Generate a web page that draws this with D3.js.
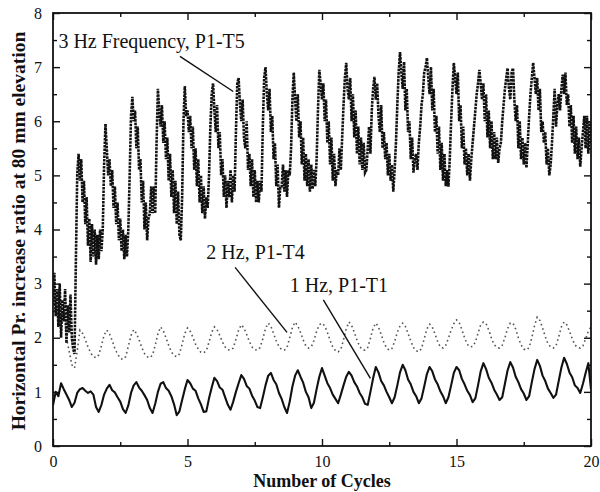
<!DOCTYPE html>
<html>
<head>
<meta charset="utf-8">
<script src="https://cdn.jsdelivr.net/npm/d3@7"></script>
<style>
  html, body { margin: 0; padding: 0; background: #fff; }
  svg { display: block; }
  text { font-family: "Liberation Serif", "Times New Roman", serif; fill: #111; }
</style>
</head>
<body>
<svg id="chart" width="600" height="492"></svg>
<script>
// Horizontal pressure increase ratio at 80 mm elevation vs. number of cycles

// 3 Hz test (P1-T5), sampled every 0.05 cycle, one row per cycle
const step3Hz = 0.05;
const ratio3Hz = [
  2.6, 3.2, 2.4, 2.9, 2.2, 3.0, 2.0, 2.7, 2.3, 2.9, 1.9, 2.6, 2.1, 2.8, 2.0, 1.8, 1.7, 3.4, 5.0, 5.4,
  4.9, 5.3, 4.5, 4.9, 4.1, 4.6, 3.7, 4.2, 3.4, 4.1, 3.5, 4.0, 3.35, 3.9, 3.45, 4.0, 3.6, 4.0, 5.2, 5.95,
  5.5, 5.0, 5.3, 4.8, 5.1, 4.4, 4.8, 4.1, 4.5, 3.8, 4.2, 3.6, 4.0, 3.45, 3.9, 3.5, 4.0, 5.0, 6.1, 6.45,
  6.0, 6.2, 5.5, 5.9, 5.1, 5.3, 4.5, 4.9, 4.0, 4.5, 3.8, 4.2, 4.3, 4.8, 4.3, 4.8, 4.3, 5.6, 6.6, 6.2,
  5.9, 6.3, 5.6, 6.0, 5.3, 5.7, 4.9, 5.4, 4.6, 5.1, 4.3, 4.9, 4.1, 4.7, 3.9, 3.8, 4.6, 6.0, 6.65, 6.1,
  6.2, 5.8, 6.1, 5.5, 5.9, 5.1, 5.5, 4.8, 5.3, 4.5, 5.0, 4.3, 4.8, 4.2, 4.6, 4.4, 5.0, 5.9, 6.5, 6.7,
  6.2, 5.8, 6.3, 5.5, 5.8, 5.0, 5.3, 4.6, 5.0, 4.4, 4.9, 4.6, 5.1, 4.5, 5.0, 4.7, 5.8, 6.7, 6.8, 6.3,
  6.0, 6.4, 5.7, 5.5, 6.0, 5.1, 5.4, 4.8, 5.3, 4.6, 5.1, 4.5, 4.9, 4.5, 4.9, 4.7, 5.9, 6.8, 7.0, 6.5,
  6.2, 6.6, 5.8, 6.1, 5.3, 5.6, 4.8, 5.2, 4.4, 4.8, 4.8, 5.2, 4.7, 5.1, 4.6, 5.1, 5.0, 5.5, 6.4, 6.9,
  6.4, 6.0, 6.5, 5.7, 6.0, 5.2, 5.7, 4.9, 5.4, 4.8, 5.3, 4.7, 5.2, 4.75, 5.1, 4.8, 5.3, 6.2, 6.95, 6.7,
  6.4, 6.7, 6.0, 6.4, 5.6, 6.0, 5.2, 5.7, 4.9, 5.4, 4.8, 5.1, 5.0, 5.5, 5.1, 5.7, 6.3, 6.8, 7.08, 6.6,
  6.4, 6.8, 6.0, 6.5, 5.7, 6.2, 5.4, 5.9, 5.2, 5.7, 5.1, 5.6, 5.05, 5.1, 5.5, 5.9, 5.4, 6.2, 6.6, 6.82,
  6.4, 6.7, 6.1, 5.8, 6.3, 5.5, 5.8, 5.3, 5.6, 5.0, 5.4, 4.9, 5.2, 4.7, 5.1, 5.6, 6.3, 6.9, 7.28, 6.9,
  6.6, 7.1, 6.2, 6.6, 5.8, 6.0, 5.3, 5.7, 5.05, 5.3, 5.4, 5.1, 5.6, 5.9, 6.3, 6.5, 6.9, 7.0, 7.17, 6.8,
  6.5, 7.0, 6.2, 6.6, 5.8, 6.1, 5.4, 5.9, 5.1, 5.6, 4.9, 5.4, 4.8, 5.1, 4.79, 5.3, 6.0, 6.6, 7.08, 6.8,
  6.5, 6.9, 6.0, 6.3, 5.5, 5.9, 5.2, 5.5, 5.0, 5.4, 4.9, 5.3, 5.6, 5.9, 6.2, 6.5, 6.7, 6.95, 6.7, 6.4,
  6.7, 6.0, 6.5, 5.7, 6.2, 5.5, 6.0, 5.3, 5.8, 5.3, 5.7, 5.23, 5.5, 5.6, 6.0, 6.3, 6.6, 6.8, 6.98, 6.6,
  6.4, 6.9, 6.98, 6.4, 6.0, 6.3, 5.5, 6.0, 5.3, 5.7, 5.2, 5.6, 5.14, 5.6, 6.1, 6.5, 6.8, 7.08, 6.8, 6.5,
  6.8, 6.2, 6.6, 5.8, 6.0, 5.6, 5.8, 5.2, 5.5, 5.0, 5.2, 5.6, 6.1, 6.6, 5.9, 6.3, 6.5, 6.2, 6.6, 6.86,
  6.5, 6.9, 6.3, 6.5, 5.9, 6.3, 5.6, 6.1, 5.4, 5.9, 5.3, 5.7, 5.16, 5.5, 5.8, 6.1, 5.5, 6.1, 5.4, 6.0,
  5.6
];

// 2 Hz test (P1-T4), sampled every 0.1 cycle
const step2Hz = 0.1;
const ratio2Hz = [
  2.8, 2.5, 2.9, 2.3, 2.6, 2.0, 1.75, 1.5, 1.44, 1.75,
  2.14, 2.08, 1.97, 1.83, 1.72, 1.65, 1.63, 1.68, 1.85, 2.05,
  2.14, 2.07, 1.95, 1.8, 1.7, 1.62, 1.6, 1.65, 1.84, 2.04,
  2.15, 2.08, 1.96, 1.82, 1.71, 1.65, 1.63, 1.68, 1.86, 2.07,
  2.2, 2.13, 2.0, 1.86, 1.74, 1.67, 1.65, 1.7, 1.88, 2.08,
  2.18, 2.12, 2.01, 1.88, 1.79, 1.73, 1.72, 1.76, 1.92, 2.1,
  2.2, 2.15, 2.04, 1.92, 1.83, 1.78, 1.77, 1.81, 1.97, 2.14,
  2.24, 2.18, 2.06, 1.93, 1.83, 1.78, 1.77, 1.82, 1.98, 2.17,
  2.27, 2.21, 2.08, 1.94, 1.84, 1.78, 1.77, 1.82, 2.0, 2.19,
  2.29, 2.22, 2.1, 1.96, 1.85, 1.81, 1.83, 1.95, 2.12, 2.24,
  2.27, 2.22, 2.1, 1.95, 1.83, 1.76, 1.74, 1.79, 1.96, 2.16,
  2.29, 2.23, 2.1, 1.96, 1.84, 1.78, 1.77, 1.82, 1.99, 2.18,
  2.27, 2.2, 2.06, 1.92, 1.81, 1.77, 1.8, 1.93, 2.1, 2.22,
  2.27, 2.21, 2.08, 1.94, 1.82, 1.76, 1.74, 1.8, 1.98, 2.16,
  2.25, 2.2, 2.07, 1.93, 1.83, 1.81, 1.86, 1.99, 2.14, 2.26,
  2.33, 2.28, 2.15, 2.0, 1.88, 1.83, 1.84, 1.92, 2.08, 2.24,
  2.29, 2.26, 2.14, 1.99, 1.87, 1.82, 1.81, 1.86, 2.0, 2.17,
  2.27, 2.27, 2.16, 2.0, 1.87, 1.79, 1.77, 1.82, 2.0, 2.22,
  2.38, 2.32, 2.18, 2.02, 1.89, 1.83, 1.81, 1.85, 2.02, 2.2,
  2.29, 2.24, 2.12, 1.98, 1.87, 1.82, 1.81, 1.85, 1.98, 2.12,
  2.2
];

// 1 Hz test (P1-T1), sampled every 0.1 cycle
const step1Hz = 0.1;
const ratio1Hz = [
  0.75, 1.0, 0.92, 1.16, 1.05, 0.95, 0.85, 0.72, 0.8, 0.98,
  1.05, 1.07, 1.02, 0.98, 1.01, 0.95, 0.72, 0.63, 0.76, 0.95,
  1.06, 1.13, 1.03, 0.99, 0.9, 0.82, 0.68, 0.61, 0.75, 0.98,
  1.12, 1.18, 1.08, 1.02, 0.94, 0.85, 0.7, 0.61, 0.78, 1.0,
  1.15, 1.18, 1.07, 1.02, 0.92, 0.77, 0.57, 0.64, 0.85, 1.05,
  1.22, 1.16, 1.06, 1.02, 0.88, 0.77, 0.63, 0.64, 0.88, 1.08,
  1.26, 1.2, 1.08, 1.04, 0.9, 0.76, 0.67, 0.82, 1.0, 1.16,
  1.31, 1.24, 1.11, 1.06, 0.93, 0.84, 0.72, 0.7, 0.9, 1.12,
  1.3, 1.35, 1.22, 1.14, 0.98, 0.87, 0.72, 0.61, 0.82, 1.1,
  1.3, 1.4, 1.28, 1.17, 1.0, 0.9, 0.7, 0.8, 1.05, 1.28,
  1.44, 1.3, 1.16, 1.07, 0.95, 0.87, 0.79, 0.95, 1.12, 1.28,
  1.37, 1.3, 1.18, 1.1, 0.98, 0.9, 0.78, 0.76, 1.0, 1.25,
  1.46, 1.36, 1.2, 1.12, 1.0, 0.9, 0.79, 0.9, 1.12, 1.36,
  1.5, 1.4, 1.23, 1.14, 1.0, 0.92, 0.79, 0.88, 1.1, 1.33,
  1.46, 1.38, 1.23, 1.14, 1.01, 0.92, 0.79, 0.9, 1.12, 1.35,
  1.46, 1.4, 1.24, 1.14, 1.02, 0.94, 0.81, 0.88, 1.12, 1.38,
  1.53, 1.42, 1.26, 1.17, 1.04, 0.95, 0.85, 0.9, 1.15, 1.4,
  1.55, 1.45, 1.28, 1.18, 1.05, 0.97, 0.85, 0.92, 1.18, 1.42,
  1.59, 1.48, 1.3, 1.2, 1.06, 0.98, 0.89, 0.95, 1.2, 1.45,
  1.63, 1.52, 1.36, 1.27, 1.12, 1.07, 0.98, 1.15, 1.35, 1.53,
  1.05
];

const xTicks = [0, 5, 10, 15, 20];
const yTicks = [0, 1, 2, 3, 4, 5, 6, 7, 8];
const xTitle = "Number of Cycles";
const yTitle = "Horizontal Pr. increase ratio at 80 mm elevation";

// Callout labels: text, anchor in data units, and where the leader points
const callouts = [
  { text: "3 Hz Frequency, P1-T5", tx: 0.2, ty: 7.35, x1: 4.72, y1: 7.2, x2: 6.7, y2: 6.55 },
  { text: "2 Hz, P1-T4",           tx: 5.7, ty: 3.45, x1: 6.77, y1: 3.3, x2: 8.7, y2: 2.1 },
  { text: "1 Hz, P1-T1",           tx: 8.8, ty: 2.85, x1: 10.05, y1: 2.7, x2: 11.8, y2: 1.25 }
];

const svg = d3.select("#chart");
const margin = { left: 53, right: 9, top: 13, bottom: 46 };
const W = 600, H = 492;
const x = d3.scaleLinear().domain([0, 20]).range([margin.left, W - margin.right]);
const y = d3.scaleLinear().domain([0, 8]).range([H - margin.bottom, margin.top]);

const toPoints = (vals, step) => vals.map((v, i) => [i * step, v]);
const line = d3.line().x(d => x(d[0])).y(d => y(d[1]));

const plot = svg.append("g");
plot.append("defs").append("clipPath").attr("id", "clip")
  .append("rect").attr("x", x(0)).attr("y", y(8)).attr("width", x(20) - x(0)).attr("height", y(0) - y(8));

const series = plot.append("g").attr("clip-path", "url(#clip)");

series.append("path")
  .attr("d", line(toPoints(ratio2Hz, step2Hz)))
  .attr("fill", "none").attr("stroke", "#555").attr("stroke-width", 1.6)
  .attr("stroke-dasharray", "1.6,3.0");

series.append("path")
  .attr("d", line(toPoints(ratio1Hz, step1Hz)))
  .attr("fill", "none").attr("stroke", "#111").attr("stroke-width", 2.1)
  .attr("stroke-linejoin", "round");

series.append("path")
  .attr("d", line(toPoints(ratio3Hz, step3Hz)))
  .attr("fill", "none").attr("stroke", "#111").attr("stroke-width", 2.6)
  .attr("stroke-dasharray", "2.6,0.9");

// Axes: ticks pointing inward on all four sides
const tickFont = "16px";
const axisB = d3.axisBottom(x).tickValues(xTicks).tickSize(-7).tickPadding(10).tickFormat(d3.format("d"));
const axisT = d3.axisTop(x).tickValues(xTicks).tickSize(-7).tickFormat("");
const axisL = d3.axisLeft(y).tickValues(yTicks).tickSize(-7).tickPadding(11).tickFormat(d3.format("d"));
const axisR = d3.axisRight(y).tickValues(yTicks).tickSize(-7).tickFormat("");

const minorX = d3.range(0, 20.01, 2.5).filter(v => v % 5 !== 0);
const minorY = d3.range(0.5, 8, 1);

function styleAxis(g) {
  g.select(".domain").remove();
  g.selectAll("line").attr("stroke", "#111").attr("stroke-width", 1.4);
  g.selectAll("text").style("font-size", tickFont).attr("fill", "#222")
    .style("font-family", "'Liberation Serif', serif");
}

svg.append("g").attr("transform", `translate(0,${y(0)})`).call(axisB).call(styleAxis);
svg.append("g").attr("transform", `translate(0,${y(8)})`).call(axisT).call(styleAxis);
svg.append("g").attr("transform", `translate(${x(0)},0)`).call(axisL).call(styleAxis);
svg.append("g").attr("transform", `translate(${x(20)},0)`).call(axisR).call(styleAxis);

svg.append("g").attr("transform", `translate(0,${y(0)})`)
  .call(d3.axisBottom(x).tickValues(minorX).tickSize(-4).tickFormat("")).call(styleAxis);
svg.append("g").attr("transform", `translate(0,${y(8)})`)
  .call(d3.axisTop(x).tickValues(minorX).tickSize(-4).tickFormat("")).call(styleAxis);
svg.append("g").attr("transform", `translate(${x(0)},0)`)
  .call(d3.axisLeft(y).tickValues(minorY).tickSize(-4).tickFormat("")).call(styleAxis);
svg.append("g").attr("transform", `translate(${x(20)},0)`)
  .call(d3.axisRight(y).tickValues(minorY).tickSize(-4).tickFormat("")).call(styleAxis);

// Frame
svg.append("rect")
  .attr("x", x(0)).attr("y", y(8))
  .attr("width", x(20) - x(0)).attr("height", y(0) - y(8))
  .attr("fill", "none").attr("stroke", "#111").attr("stroke-width", 1.8);

// Axis titles
svg.append("text")
  .attr("x", (x(0) + x(20)) / 2).attr("y", 487)
  .attr("text-anchor", "middle")
  .style("font-size", "18px").style("font-weight", "bold")
  .text(xTitle);

svg.append("text")
  .attr("transform", `translate(25,231) rotate(-90)`)
  .attr("text-anchor", "middle")
  .style("font-size", "19.5px").style("font-weight", "bold")
  .text(yTitle);

// Callouts
const notes = svg.append("g");
callouts.forEach(c => {
  notes.append("text")
    .attr("x", x(c.tx)).attr("y", y(c.ty))
    .style("font-size", "20px")
    .text(c.text);
  notes.append("line")
    .attr("x1", x(c.x1)).attr("y1", y(c.y1))
    .attr("x2", x(c.x2)).attr("y2", y(c.y2))
    .attr("stroke", "#111").attr("stroke-width", 1.4);
});
</script>
</body>
</html>
